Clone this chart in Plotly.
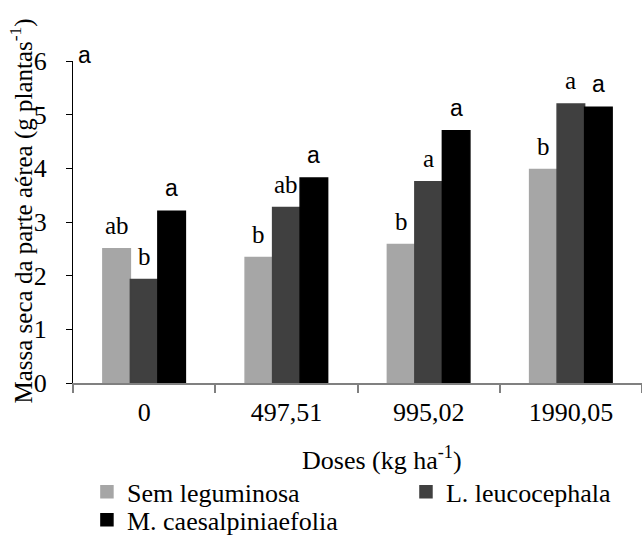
import plotly.graph_objects as go

# Dose levels (kg ha-1) and shoot dry mass (g plantas-1) per treatment
doses = ["0", "497,51", "995,02", "1990,05"]
series_names = ["Sem leguminosa", "L. leucocephala", "M. caesalpiniaefolia"]
sem_leguminosa = [2.50, 2.34, 2.58, 3.98]
leucocephala = [1.93, 3.27, 3.75, 5.20]
caesalpiniaefolia = [3.20, 3.82, 4.70, 5.14]

# Mean-comparison letters shown above each bar
letters_sem = ["ab", "b", "b", "b"]
letters_leuc = ["b", "ab", "a", "a"]
letters_caes = ["a", "a", "a", "a"]

colors = ["#a6a6a6", "#404040", "#000000"]
serif = "Liberation Serif"
sans = "Liberation Sans"

values = [sem_leguminosa, leucocephala, caesalpiniaefolia]
letters = [letters_sem, letters_leuc, letters_caes]
letter_fonts = [dict(family=serif, size=25, color="black"),
                dict(family=serif, size=25, color="black"),
                dict(family=sans, size=23, color="black")]

# one single-entry legend per series, laid out as two rows
legend_ids = ["legend", "legend2", "legend3"]
legend_pos = [(0.0245, -0.265), (0.5852, -0.265), (0.0245, -0.352)]

bargap = 0.42
n_series = len(values)
bar_w = (1 - bargap) / n_series

fig = go.Figure()
for name, vals, col, lg in zip(series_names, values, colors, legend_ids):
    fig.add_trace(go.Bar(x=doses, y=vals, name=name, legend=lg, showlegend=True,
                         marker=dict(color=col, line=dict(color=col, width=1.5))))

annotations = []
for s, (vals, labs) in enumerate(zip(values, letters)):
    for i, (v, lab) in enumerate(zip(vals, labs)):
        annotations.append(dict(
            x=i + (s - (n_series - 1) / 2) * bar_w, y=v, xref="x", yref="y",
            text=lab, showarrow=False, yanchor="middle", yshift=23,
            font=letter_fonts[s]))

# Axis titles and the corner letter
annotations.append(dict(
    x=-0.09, y=0.535, xref="paper", yref="paper", textangle=-90,
    text="Massa seca da parte aérea (g plantas<sup>-1</sup>)", showarrow=False,
    xanchor="center", yanchor="middle",
    font=dict(family=serif, size=25, color="black")))
annotations.append(dict(
    x=0.543, y=-0.236, xref="paper", yref="paper",
    text="Doses (kg ha<sup>-1</sup>)", showarrow=False,
    xanchor="center", yanchor="middle",
    font=dict(family=serif, size=26, color="black")))
annotations.append(dict(
    x=0.021, y=1.019, xref="paper", yref="paper", text="a", showarrow=False,
    xanchor="center", yanchor="middle",
    font=dict(family=sans, size=23, color="black")))

legend_style = dict(orientation="v", xanchor="left", yanchor="top", visible=True,
                    font=dict(family=serif, size=26, color="black"),
                    bgcolor="rgba(0,0,0,0)", borderwidth=0)
legends = {}
for lg, (lx, ly) in zip(legend_ids, legend_pos):
    legends[lg] = dict(legend_style, x=lx, y=ly)

fig.update_layout(
    width=642, height=536,
    margin=dict(l=73, r=0, t=61, b=153, autoexpand=False),
    paper_bgcolor="white", plot_bgcolor="white",
    showlegend=True,
    barmode="group", bargap=bargap, bargroupgap=0,
    font=dict(family=serif, size=26, color="black"),
    annotations=annotations,
    xaxis=dict(type="category", range=[-0.5, 3.5], showline=True,
               linecolor="#808080", linewidth=1.5, ticks="outside",
               tickson="boundaries", ticklen=8, tickcolor="#808080", tickwidth=1.5,
               showgrid=False, zeroline=False, ticklabelstandoff=5,
               tickfont=dict(family=serif, size=26, color="black")),
    yaxis=dict(range=[0, 6], dtick=1, showline=True, linecolor="black",
               linewidth=1.3, ticks="outside", ticklen=6, tickcolor="black",
               tickwidth=1.3, showgrid=False, zeroline=False,
               ticklabelstandoff=14,
               tickfont=dict(family=serif, size=26, color="black")),
    **legends,
)

fig.write_html("out.html")
